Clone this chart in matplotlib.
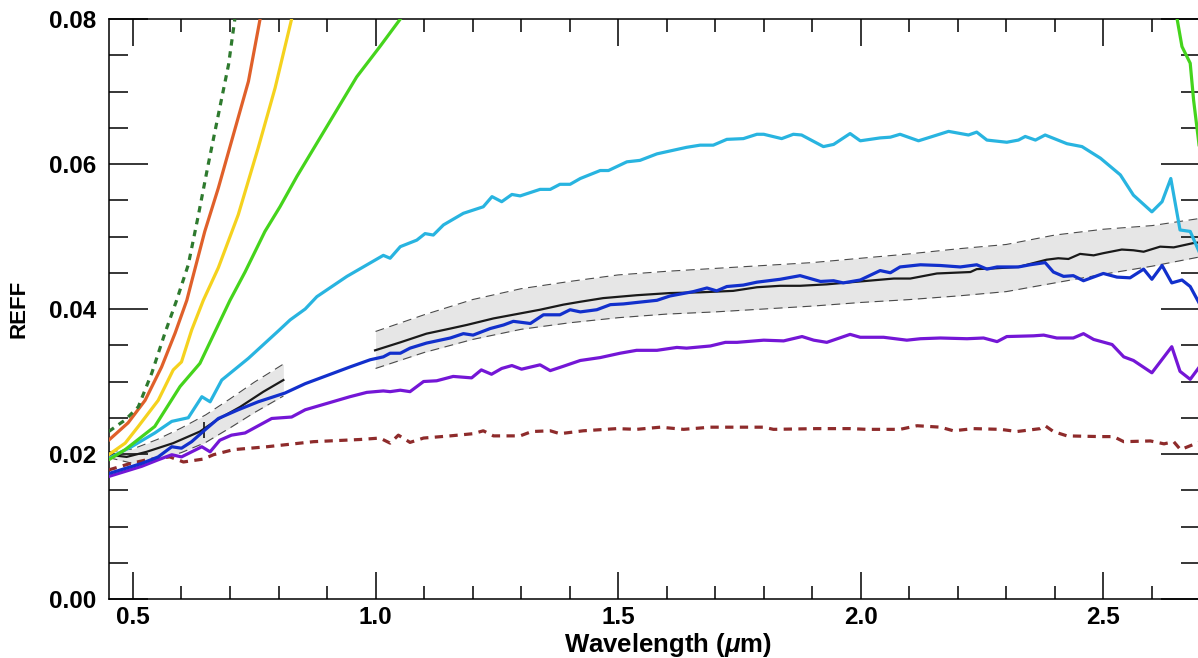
import matplotlib
matplotlib.use("Agg")
import matplotlib.pyplot as plt
import numpy as np
from matplotlib.ticker import MultipleLocator

plt.rcParams['font.family'] = ['Liberation Sans', 'DejaVu Sans']
plt.rcParams['mathtext.fontset'] = 'custom'
plt.rcParams['mathtext.it'] = 'Liberation Sans:italic:bold'
plt.rcParams['mathtext.rm'] = 'Liberation Sans:bold'

# ---------------- data ----------------
dkgreen_x = [0.45, 0.484, 0.511, 0.539, 0.566, 0.590, 0.614, 0.635, 0.655, 0.676, 0.697, 0.710]
dkgreen_y = [0.0231, 0.0247, 0.0265, 0.0312, 0.0367, 0.0412, 0.0461, 0.0530, 0.0599, 0.0668, 0.0737, 0.0800]

orange_x = [0.45, 0.490, 0.525, 0.559, 0.587, 0.611, 0.621, 0.648, 0.676, 0.703, 0.738, 0.762]
orange_y = [0.0219, 0.0243, 0.0274, 0.0320, 0.0367, 0.0412, 0.0438, 0.0507, 0.0567, 0.0631, 0.0714, 0.0800]

yellow_x = [0.45, 0.484, 0.511, 0.552, 0.583, 0.600, 0.621, 0.645, 0.676, 0.717, 0.758, 0.793, 0.827]
yellow_y = [0.0199, 0.0215, 0.0238, 0.0274, 0.0316, 0.0327, 0.0371, 0.0412, 0.0457, 0.0530, 0.0622, 0.0705, 0.0800]

green_x = [0.45, 0.484, 0.545, 0.597, 0.638, 0.700, 0.731, 0.772, 0.803, 0.838, 0.899, 0.961, 1.009, 1.051,
           np.nan, 2.652, 2.662, 2.679, 2.686, 2.696, 2.700]
green_y = [0.0192, 0.0206, 0.0238, 0.0293, 0.0325, 0.0412, 0.0451, 0.0507, 0.0541, 0.0583, 0.0651, 0.0720, 0.0762, 0.0800,
           np.nan, 0.0800, 0.0762, 0.0739, 0.0688, 0.0633, 0.0610]

cyan_x = [0.45, 0.497, 0.545, 0.580, 0.614, 0.642, 0.659, 0.683, 0.738, 0.800, 0.824, 0.855, 0.879, 0.941,
          1.016, 1.030, 1.051, 1.085, 1.102, 1.119, 1.140, 1.181, 1.222, 1.240, 1.260, 1.281, 1.298, 1.339,
          1.360, 1.380, 1.401, 1.422, 1.463, 1.480, 1.518, 1.545, 1.580, 1.641, 1.669, 1.696, 1.724, 1.758,
          1.786, 1.800, 1.837, 1.861, 1.878, 1.923, 1.944, 1.978, 1.999, 2.040, 2.061, 2.081, 2.119, 2.143,
          2.181, 2.222, 2.239, 2.260, 2.301, 2.325, 2.339, 2.360, 2.380, 2.425, 2.456, 2.494, 2.535, 2.562,
          2.600, 2.621, 2.639, 2.658, 2.679, 2.700]
cyan_y = [0.0194, 0.0210, 0.0229, 0.0245, 0.0250, 0.0279, 0.0272, 0.0302, 0.0332, 0.0370, 0.0385, 0.0400, 0.0417, 0.0445,
          0.0474, 0.0470, 0.0486, 0.0495, 0.0504, 0.0502, 0.0516, 0.0532, 0.0541, 0.0555, 0.0548, 0.0558, 0.0556, 0.0565,
          0.0565, 0.0572, 0.0572, 0.0580, 0.0591, 0.0591, 0.0603, 0.0605, 0.0614, 0.0623, 0.0626, 0.0626, 0.0634, 0.0635,
          0.0641, 0.0641, 0.0635, 0.0641, 0.0640, 0.0624, 0.0627, 0.0642, 0.0632, 0.0636, 0.0637, 0.0641, 0.0632, 0.0637,
          0.0645, 0.0640, 0.0644, 0.0633, 0.0630, 0.0633, 0.0638, 0.0633, 0.0640, 0.0628, 0.0624, 0.0608, 0.0585, 0.0557,
          0.0534, 0.0548, 0.0580, 0.0509, 0.0507, 0.0475]

blue_x = [0.45, 0.484, 0.518, 0.552, 0.580, 0.600, 0.621, 0.648, 0.676, 0.717, 0.758, 0.813, 0.855, 0.947,
          0.989, 1.016, 1.030, 1.051, 1.071, 1.105, 1.154, 1.181, 1.201, 1.236, 1.264, 1.284, 1.319, 1.346,
          1.380, 1.401, 1.422, 1.456, 1.484, 1.511, 1.552, 1.580, 1.607, 1.655, 1.683, 1.703, 1.724, 1.758,
          1.786, 1.834, 1.875, 1.917, 1.944, 1.964, 1.999, 2.040, 2.061, 2.081, 2.123, 2.164, 2.205, 2.239,
          2.260, 2.281, 2.325, 2.349, 2.380, 2.397, 2.418, 2.438, 2.459, 2.500, 2.528, 2.555, 2.583, 2.600,
          2.621, 2.641, 2.662, 2.679, 2.700]
blue_y = [0.0173, 0.0180, 0.0187, 0.0196, 0.0210, 0.0208, 0.0217, 0.0233, 0.0249, 0.0261, 0.0272, 0.0284, 0.0297, 0.0320,
          0.0330, 0.0334, 0.0339, 0.0339, 0.0346, 0.0353, 0.0360, 0.0366, 0.0364, 0.0373, 0.0378, 0.0383, 0.0380, 0.0392,
          0.0392, 0.0399, 0.0396, 0.0399, 0.0406, 0.0407, 0.0410, 0.0412, 0.0418, 0.0424, 0.0429, 0.0425, 0.0431, 0.0433,
          0.0437, 0.0441, 0.0446, 0.0438, 0.0439, 0.0436, 0.0440, 0.0453, 0.0450, 0.0458, 0.0461, 0.0460, 0.0458, 0.0461,
          0.0455, 0.0458, 0.0458, 0.0461, 0.0464, 0.0451, 0.0445, 0.0446, 0.0439, 0.0449, 0.0444, 0.0443, 0.0455, 0.0441,
          0.0460, 0.0436, 0.0440, 0.0431, 0.0405]

purple_x = [0.45, 0.484, 0.518, 0.552, 0.580, 0.600, 0.642, 0.659, 0.679, 0.703, 0.731, 0.786, 0.827, 0.855,
            0.947, 0.982, 1.016, 1.030, 1.051, 1.071, 1.099, 1.126, 1.160, 1.198, 1.218, 1.239, 1.260, 1.281,
            1.301, 1.339, 1.360, 1.387, 1.422, 1.463, 1.504, 1.538, 1.580, 1.621, 1.641, 1.690, 1.721, 1.745,
            1.800, 1.841, 1.879, 1.903, 1.930, 1.978, 1.999, 2.047, 2.095, 2.123, 2.164, 2.219, 2.253, 2.281,
            2.301, 2.356, 2.377, 2.404, 2.438, 2.459, 2.480, 2.518, 2.542, 2.562, 2.600, 2.641, 2.658, 2.679, 2.700]
purple_y = [0.0169, 0.0176, 0.0183, 0.0192, 0.0199, 0.0196, 0.0210, 0.0203, 0.0219, 0.0226, 0.0229, 0.0249, 0.0251, 0.0261,
            0.0279, 0.0285, 0.0287, 0.0286, 0.0288, 0.0286, 0.0300, 0.0301, 0.0307, 0.0305, 0.0316, 0.0310, 0.0318, 0.0322,
            0.0317, 0.0323, 0.0315, 0.0321, 0.0329, 0.0333, 0.0339, 0.0343, 0.0343, 0.0347, 0.0346, 0.0349, 0.0354, 0.0354,
            0.0357, 0.0356, 0.0362, 0.0357, 0.0354, 0.0365, 0.0361, 0.0361, 0.0357, 0.0359, 0.0360, 0.0359, 0.0360, 0.0355,
            0.0362, 0.0363, 0.0364, 0.0360, 0.0360, 0.0366, 0.0358, 0.0351, 0.0334, 0.0329, 0.0312, 0.0348, 0.0314, 0.0303, 0.0322]

brown_x = [0.45, 0.490, 0.528, 0.576, 0.604, 0.645, 0.666, 0.707, 0.776, 0.831, 0.872, 0.968, 1.009, 1.030,
           1.047, 1.071, 1.099, 1.154, 1.201, 1.222, 1.243, 1.298, 1.322, 1.360, 1.380, 1.428, 1.497, 1.538,
           1.587, 1.635, 1.690, 1.758, 1.800, 1.820, 1.909, 1.978, 2.013, 2.081, 2.116, 2.164, 2.191, 2.232,
           2.288, 2.322, 2.370, 2.380, 2.397, 2.425, 2.494, 2.521, 2.542, 2.597, 2.625, 2.645, 2.659, 2.700]
brown_y = [0.0178, 0.0186, 0.0192, 0.0196, 0.0189, 0.0193, 0.0199, 0.0206, 0.0210, 0.0214, 0.0217, 0.0220, 0.0222, 0.0215,
           0.0226, 0.0216, 0.0222, 0.0225, 0.0228, 0.0232, 0.0225, 0.0225, 0.0231, 0.0232, 0.0228, 0.0232, 0.0235, 0.0234,
           0.0237, 0.0234, 0.0237, 0.0237, 0.0237, 0.0234, 0.0235, 0.0235, 0.0234, 0.0234, 0.0239, 0.0237, 0.0232, 0.0235,
           0.0234, 0.0231, 0.0235, 0.0239, 0.0231, 0.0225, 0.0224, 0.0224, 0.0217, 0.0218, 0.0214, 0.0217, 0.0206, 0.0217]

# mean spectrum with spread, two segments
mean1_x = [0.45, 0.487, 0.528, 0.583, 0.638, 0.673, 0.721, 0.769, 0.810]
mean1_y = [0.0199, 0.0196, 0.0203, 0.0215, 0.0231, 0.0247, 0.0265, 0.0286, 0.0302]
band1_x = [0.45, 0.50, 0.55, 0.60, 0.65, 0.70, 0.75, 0.81]
band1_hi = [0.0203, 0.0207, 0.0220, 0.0236, 0.0254, 0.0276, 0.0299, 0.0324]
band1_lo = [0.0195, 0.0187, 0.0192, 0.0202, 0.0216, 0.0236, 0.0257, 0.0280]
join_x = 0.646
join_y = [0.0222, 0.0244]

mean2_x = [0.999, 1.051, 1.105, 1.154, 1.188, 1.243, 1.291, 1.339, 1.387, 1.422, 1.469, 1.538, 1.607, 1.669,
           1.737, 1.786, 1.834, 1.875, 1.930, 1.999, 2.068, 2.102, 2.157, 2.226, 2.239, 2.274, 2.325, 2.383,
           2.407, 2.428, 2.452, 2.480, 2.500, 2.538, 2.562, 2.583, 2.617, 2.645, 2.686, 2.700]
mean2_y = [0.0343, 0.0354, 0.0366, 0.0373, 0.0378, 0.0387, 0.0393, 0.0399, 0.0406, 0.0410, 0.0415, 0.0419, 0.0422, 0.0423,
           0.0425, 0.0430, 0.0432, 0.0432, 0.0434, 0.0438, 0.0442, 0.0442, 0.0449, 0.0451, 0.0455, 0.0456, 0.0458, 0.0468,
           0.0470, 0.0469, 0.0476, 0.0474, 0.0477, 0.0482, 0.0481, 0.0479, 0.0486, 0.0485, 0.0491, 0.0492]
band2_x = [1.0, 1.1, 1.2, 1.3, 1.4, 1.5, 1.6, 1.7, 1.8, 1.9, 2.0, 2.1, 2.2, 2.3, 2.4, 2.5, 2.6, 2.7]
band2_hi = [0.0369, 0.0392, 0.0413, 0.0428, 0.0438, 0.0447, 0.0452, 0.0456, 0.0460, 0.0464, 0.0470, 0.0476, 0.0483, 0.0489, 0.0502, 0.0510, 0.0515, 0.0525]
band2_lo = [0.0318, 0.0340, 0.0358, 0.0372, 0.0381, 0.0388, 0.0393, 0.0396, 0.0400, 0.0404, 0.0409, 0.0413, 0.0418, 0.0424, 0.0436, 0.0448, 0.0459, 0.0472]

x_ticks = [0.5, 1.0, 1.5, 2.0, 2.5]
x_ticklabels = ['0.5', '1.0', '1.5', '2.0', '2.5']
y_ticks = [0.00, 0.02, 0.04, 0.06, 0.08]
y_ticklabels = ['0.00', '0.02', '0.04', '0.06', '0.08']

# ---------------- figure ----------------
W, H = 1198, 658
fig = plt.figure(figsize=(W / 100, H / 100), dpi=100)
ax = fig.add_axes([108.7 / W, 59 / H, (1200.4 - 108.7) / W, 580 / H])

band_fill = '#e6e6e6'
band_edge = '#4a4a4a'
for bx, bh, bl in [(band1_x, band1_hi, band1_lo), (band2_x, band2_hi, band2_lo)]:
    ax.fill_between(bx, bl, bh, color=band_fill, lw=0, zorder=1)
    ax.plot(bx, bh, color=band_edge, lw=0.8, ls=(0, (8, 5)), zorder=2)
    ax.plot(bx, bl, color=band_edge, lw=0.8, ls=(0, (8, 5)), zorder=2)
ax.vlines(join_x, join_y[0], join_y[1], color='#222222', lw=1.3, zorder=3)
ax.plot(mean1_x, mean1_y, color='#1a1a1a', lw=1.6, zorder=3)
ax.plot(mean2_x, mean2_y, color='#1a1a1a', lw=1.6, zorder=3)

lw = 2.3
ax.plot(brown_x, brown_y, color='#8e2b2b', lw=lw, ls=(0, (2.6, 2.0)), zorder=4)
ax.plot(purple_x, purple_y, color='#7416d6', lw=lw, zorder=4)
ax.plot(blue_x, blue_y, color='#1230cc', lw=lw, zorder=5)
ax.plot(cyan_x, cyan_y, color='#28b4e0', lw=lw, zorder=4)
ax.plot(green_x, green_y, color='#45d41c', lw=lw, zorder=4)
ax.plot(yellow_x, yellow_y, color='#f5d21e', lw=lw, zorder=4)
ax.plot(orange_x, orange_y, color='#e0602a', lw=lw, zorder=4)
ax.plot(dkgreen_x, dkgreen_y, color='#2e7a2e', lw=lw, ls=(0, (2.0, 1.8)), zorder=4)

ax.set_xlim(0.45, 2.7)
ax.set_ylim(0.0, 0.08)
ax.set_xticks(x_ticks)
ax.set_xticklabels(x_ticklabels)
ax.set_yticks(y_ticks)
ax.set_yticklabels(y_ticklabels)
ax.xaxis.set_minor_locator(MultipleLocator(0.1))
ax.yaxis.set_minor_locator(MultipleLocator(0.005))

ax.tick_params(axis='x', which='major', direction='in', length=19.5, width=1.1, top=True, bottom=True,
               labelsize=17.5, pad=5)
ax.tick_params(axis='x', which='minor', direction='in', length=9.6, width=1.1, top=True, bottom=True)
ax.tick_params(axis='y', which='major', direction='in', length=28, width=1.1, left=True, right=True,
               labelsize=17.5, pad=9)
ax.tick_params(axis='y', which='minor', direction='in', length=14, width=1.1, left=True, right=True)
for lab in ax.get_xticklabels() + ax.get_yticklabels():
    lab.set_fontweight('bold')
for s in ax.spines.values():
    s.set_linewidth(1.1)

ax.set_xlabel(r'Wavelength ($\mu$m)', fontsize=18.5, fontweight='bold')
ax.xaxis.set_label_coords(0.512, -0.0785, transform=ax.transAxes)
ax.xaxis.label.set_va('center')
ax.set_ylabel('REFF', fontsize=16, fontweight='bold', labelpad=14)

fig.savefig('out.png', dpi=100)
